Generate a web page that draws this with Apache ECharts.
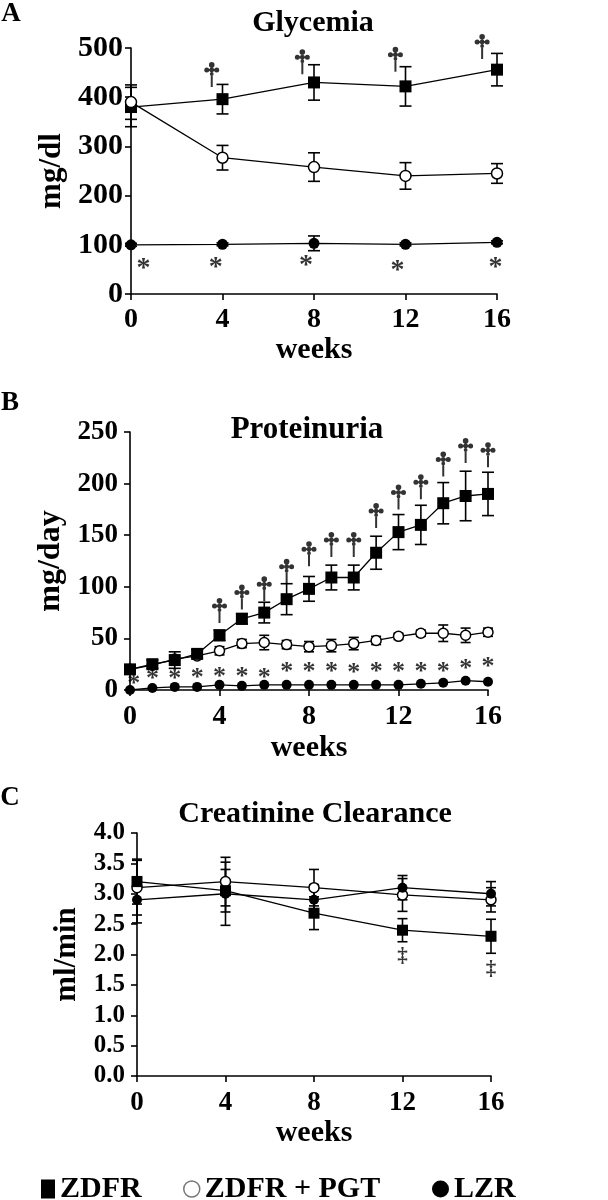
<!DOCTYPE html>
<html>
<head>
<meta charset="utf-8">
<script src="https://cdn.jsdelivr.net/npm/echarts@6/dist/echarts.min.js"></script>
<style>
html,body{margin:0;padding:0;background:#fff;}
#chart{width:608px;height:1200px;}
</style>
</head>
<body>
<div id="chart"></div>
<script>
// ---------- Panel A: Glycemia (mg/dl) ----------
const weeksA = [0, 4, 8, 12, 16];
const glyZDFR = [380, 396, 430, 422, 456];
const glyZDFRerr = [40, 30, 36, 40, 33];
const glyPGT = [390, 277, 258, 240, 245];
const glyPGTerr = [35, 25, 29, 27, 20];
const glyLZR = [100, 101, 103, 101, 105];
const glyLZRerr = [3, 3, 15, 3, 3];
const glyStarX = [0.55, 3.7, 7.65, 11.65, 15.93];
const glyStarY = [64, 66, 69, 59, 66];
const glyDagX = [3.53, 7.49, 11.56, 15.35];
const glyDagY = [446, 472, 477, 503];
const ticksA = [0, 100, 200, 300, 400, 500];

// ---------- Panel B: Proteinuria (mg/day) ----------
const weeksB = [0, 1, 2, 3, 4, 5, 6, 7, 8, 9, 10, 11, 12, 13, 14, 15, 16];
const protZDFR = [20, 25, 29, 35, 53, 69, 75, 88, 98, 109, 109, 133, 153, 160, 181, 188, 190];
const protZDFRerr = [4, 4, 8, 4, 5, 5, 10, 15, 12, 12, 12, 16, 17, 19, 20, 24, 21];
const protPGT = [20, 24, 30, 33, 38, 45, 46, 44, 42, 43, 45, 48, 52, 55, 55, 53, 56];
const protPGTerr = [3, 3, 3, 3, 4, 4, 7, 4, 5, 6, 6, 4, 3, 3, 8, 7, 4];
const protLZR = [0, 2, 3, 3, 5, 4, 5, 5, 5, 5, 5, 5, 5, 6, 7, 9, 8];
const protStarX = [0.17, 1, 2, 3, 4, 5, 6, 7, 8, 9, 10, 11, 12, 13, 14, 15, 16];
const protStarY = [11, 16, 16, 17, 18, 18, 17, 23, 23, 23, 22, 23, 23, 23, 23, 26, 28];
const protDagX = [4, 5, 6, 7, 8, 9, 10, 11, 12, 13, 14, 15, 16];
const protDagY = [77, 90, 98, 115, 132, 141, 141, 169, 187, 197, 219, 232, 228];
const ticksB = [0, 50, 100, 150, 200, 250];

// ---------- Panel C: Creatinine Clearance (ml/min) ----------
const weeksC = [0, 4, 8, 12, 16];
const creZDFR = [3.2, 3.05, 2.68, 2.4, 2.3];
const creZDFRerr = [0.37, 0.35, 0.27, 0.19, 0.28];
const crePGT = [3.1, 3.2, 3.1, 2.98, 2.9];
const crePGTerr = [0.45, 0.4, 0.3, 0.27, 0.2];
const creLZR = [2.9, 3.0, 2.9, 3.1, 3.0];
const creLZRerr = [0.38, 0.52, 0.25, 0.2, 0.2];
const creDDX = [12, 16];
const creDDY = [1.96, 1.75];
const ticksC = [0.0, 0.5, 1.0, 1.5, 2.0, 2.5, 3.0, 3.5, 4.0];

const xTicks = [0, 4, 8, 12, 16];
const seriesNames = ['ZDFR', 'ZDFR + PGT', 'LZR'];

// ---------- helpers ----------
const FONT = '"Liberation Serif", "Times New Roman", serif';
const pair = (xs, ys) => xs.map((x, i) => [x, ys[i]]);
const errData = (xs, m, e) => xs.map((x, i) => [x, m[i] - e[i], m[i] + e[i]]);

const DAGGER = 'path://M6.5 3H8.5V25H6.5Z M2 7.1H13V9.1H2Z ' +
  'M7.5 0.2A2.8 2.8 0 1 1 7.5 5.8A2.8 2.8 0 1 1 7.5 0.2Z ' +
  'M2.5 5.6A2.5 2.5 0 1 1 2.5 10.6A2.5 2.5 0 1 1 2.5 5.6Z ' +
  'M12.5 5.6A2.5 2.5 0 1 1 12.5 10.6A2.5 2.5 0 1 1 12.5 5.6Z ' +
  'M7.5 5.7A2.4 2.4 0 1 1 7.5 10.5A2.4 2.4 0 1 1 7.5 5.7Z ' +
  'M7.5 10.1A1.9 1.9 0 1 1 7.5 13.9A1.9 1.9 0 1 1 7.5 10.1Z';

function errorSeries(idx, data, cap) {
  return {
    type: 'custom', xAxisIndex: idx, yAxisIndex: idx, z: 1, silent: true,
    encode: { x: 0, y: [1, 2] },
    data: data,
    renderItem: function (params, api) {
      const x = api.value(0);
      const lo = api.coord([x, api.value(1)]);
      const hi = api.coord([x, api.value(2)]);
      const st = { stroke: '#000', lineWidth: 1.6 };
      return {
        type: 'group',
        children: [
          { type: 'line', shape: { x1: lo[0], y1: lo[1], x2: hi[0], y2: hi[1] }, style: st },
          { type: 'line', shape: { x1: lo[0] - cap, y1: lo[1], x2: lo[0] + cap, y2: lo[1] }, style: st },
          { type: 'line', shape: { x1: hi[0] - cap, y1: hi[1], x2: hi[0] + cap, y2: hi[1] }, style: st }
        ]
      };
    }
  };
}

function lineSeries(idx, name, data, kind, size, z) {
  const s = {
    type: 'line', name: name, xAxisIndex: idx, yAxisIndex: idx, z: z,
    data: data, symbolSize: size, showAllSymbol: true,
    lineStyle: { color: '#000', width: 1.3 },
    itemStyle: { color: '#000' }
  };
  if (kind === 'square') { s.symbol = 'rect'; }
  else if (kind === 'open') {
    s.symbol = 'circle';
    s.itemStyle = { color: '#fff', borderColor: '#000', borderWidth: 1.5 };
  } else { s.symbol = 'circle'; }
  return s;
}

function textMarks(idx, data, text, fontSize, offY) {
  return {
    type: 'scatter', xAxisIndex: idx, yAxisIndex: idx, z: 6, silent: true,
    data: data, symbolSize: 0.01, clip: false,
    itemStyle: { color: 'rgba(0,0,0,0)' },
    label: {
      show: true, position: 'inside', formatter: text, color: '#000',
      fontFamily: FONT, fontWeight: 'bold', fontSize: fontSize,
      offset: [0, offY]
    }
  };
}

function daggerMarks(idx, data) {
  return {
    type: 'scatter', xAxisIndex: idx, yAxisIndex: idx, z: 6, silent: true,
    data: data, symbol: DAGGER, symbolSize: [15, 25], clip: false,
    itemStyle: { color: '#000' }
  };
}

function xAxis(idx, labelSize, labelMargin, nameGap) {
  return {
    type: 'value', gridIndex: idx, min: 0, max: 16, interval: 4,
    name: 'weeks', nameLocation: 'middle', nameGap: nameGap,
    nameTextStyle: { fontFamily: FONT, fontWeight: 'bold', fontSize: 30, color: '#000' },
    axisLine: { show: true, onZero: false, lineStyle: { color: '#000', width: 1.6 } },
    axisTick: { show: true, length: 6, lineStyle: { color: '#000', width: 1.6 } },
    splitLine: { show: false },
    axisLabel: {
      color: '#000', fontFamily: FONT, fontWeight: 'bold', fontSize: labelSize, margin: labelMargin,
      formatter: v => (xTicks.indexOf(v) >= 0 ? String(v) : '')
    }
  };
}

function yAxis(idx, name, ticks, labelSize, labelMargin, nameGap, nameSize, decimals) {
  const step = ticks[1] - ticks[0];
  return {
    type: 'value', gridIndex: idx, min: ticks[0], max: ticks[ticks.length - 1], interval: step,
    name: name, nameLocation: 'middle', nameGap: nameGap, nameRotate: 90,
    nameTextStyle: { fontFamily: FONT, fontWeight: 'bold', fontSize: nameSize, color: '#000' },
    axisLine: { show: true, onZero: false, lineStyle: { color: '#000', width: 1.6 } },
    axisTick: { show: true, length: 6, lineStyle: { color: '#000', width: 1.6 } },
    splitLine: { show: false },
    axisLabel: {
      color: '#000', fontFamily: FONT, fontWeight: 'bold', fontSize: labelSize, margin: labelMargin,
      formatter: v => v.toFixed(decimals)
    }
  };
}

function gtext(text, x, y, size) {
  return {
    type: 'text', x: x, y: y, silent: true,
    style: {
      text: text, fill: '#000', fontFamily: FONT, fontWeight: 'bold', fontSize: size,
      textAlign: 'center', textVerticalAlign: 'middle'
    }
  };
}

const legendText = { fontFamily: FONT, fontWeight: 'bold', fontSize: 30, color: '#000' };

const option = {
  animation: false,
  backgroundColor: '#fff',
  grid: [
    { left: 131, top: 48, width: 366, height: 246 },
    { left: 130, top: 432, width: 358, height: 258 },
    { left: 137, top: 833, width: 354, height: 243 }
  ],
  xAxis: [
    xAxis(0, 28, 12, 41),
    xAxis(1, 28, 13, 43),
    xAxis(2, 27, 14, 42)
  ],
  yAxis: [
    yAxis(0, 'mg/dl', ticksA, 30, 8, 60, 31, 0),
    yAxis(1, 'mg/day', ticksB, 27, 12, 58, 32, 0),
    yAxis(2, 'ml/min', ticksC, 25, 12, 52, 31, 1)
  ],
  legend: [
    { left: 36, top: 1169, padding: 5, itemWidth: 14, itemHeight: 19, selectedMode: false, textStyle: legendText,
      data: [{ name: seriesNames[0], icon: 'rect' }] },
    { left: 178, top: 1169, padding: 5, itemWidth: 16, itemHeight: 19, selectedMode: false, textStyle: legendText,
      data: [{ name: seriesNames[1], icon: 'circle', itemStyle: { color: '#fff', borderColor: '#777', borderWidth: 1.5 } }] },
    { left: 427, top: 1169, padding: 5, itemWidth: 17, itemHeight: 20, selectedMode: false, textStyle: legendText,
      data: [{ name: seriesNames[2], icon: 'circle' }] }
  ],
  graphic: [
    gtext('A', 11, 14, 27),
    gtext('Glycemia', 313, 23, 30),
    gtext('B', 10, 403, 27),
    gtext('Proteinuria', 307, 430, 31),
    gtext('C', 10, 798, 27),
    gtext('Creatinine Clearance', 315, 814, 30)
  ],
  series: [
    // Panel A
    errorSeries(0, errData(weeksA, glyZDFR, glyZDFRerr), 6),
    errorSeries(0, errData(weeksA, glyPGT, glyPGTerr), 6),
    errorSeries(0, errData(weeksA, glyLZR, glyLZRerr), 6),
    lineSeries(0, seriesNames[0], pair(weeksA, glyZDFR), 'square', 12, 3),
    lineSeries(0, seriesNames[1], pair(weeksA, glyPGT), 'open', 11, 4),
    lineSeries(0, seriesNames[2], pair(weeksA, glyLZR), 'filled', 11, 3),
    textMarks(0, pair(glyStarX, glyStarY), '*', 28, 6),
    daggerMarks(0, pair(glyDagX, glyDagY)),
    // Panel B
    errorSeries(1, errData(weeksB, protZDFR, protZDFRerr), 6),
    errorSeries(1, errData(weeksB, protPGT, protPGTerr), 5),
    lineSeries(1, seriesNames[0], pair(weeksB, protZDFR), 'square', 12, 4),
    lineSeries(1, seriesNames[1], pair(weeksB, protPGT), 'open', 10, 3),
    lineSeries(1, seriesNames[2], pair(weeksB, protLZR), 'filled', 10, 3),
    textMarks(1, pair(protStarX, protStarY), '*', 26, 6),
    daggerMarks(1, pair(protDagX, protDagY)),
    // Panel C
    errorSeries(2, errData(weeksC, creZDFR, creZDFRerr), 5),
    errorSeries(2, errData(weeksC, crePGT, crePGTerr), 5),
    errorSeries(2, errData(weeksC, creLZR, creLZRerr), 5),
    lineSeries(2, seriesNames[0], pair(weeksC, creZDFR), 'square', 11, 4),
    lineSeries(2, seriesNames[1], pair(weeksC, crePGT), 'open', 10, 3),
    lineSeries(2, seriesNames[2], pair(weeksC, creLZR), 'filled', 10, 3),
    textMarks(2, pair(creDDX, creDDY), '\u2021', 21, 0)
  ]
};

const chart = echarts.init(document.getElementById('chart'), null, { renderer: 'canvas' });
chart.setOption(option);
</script>
</body>
</html>
